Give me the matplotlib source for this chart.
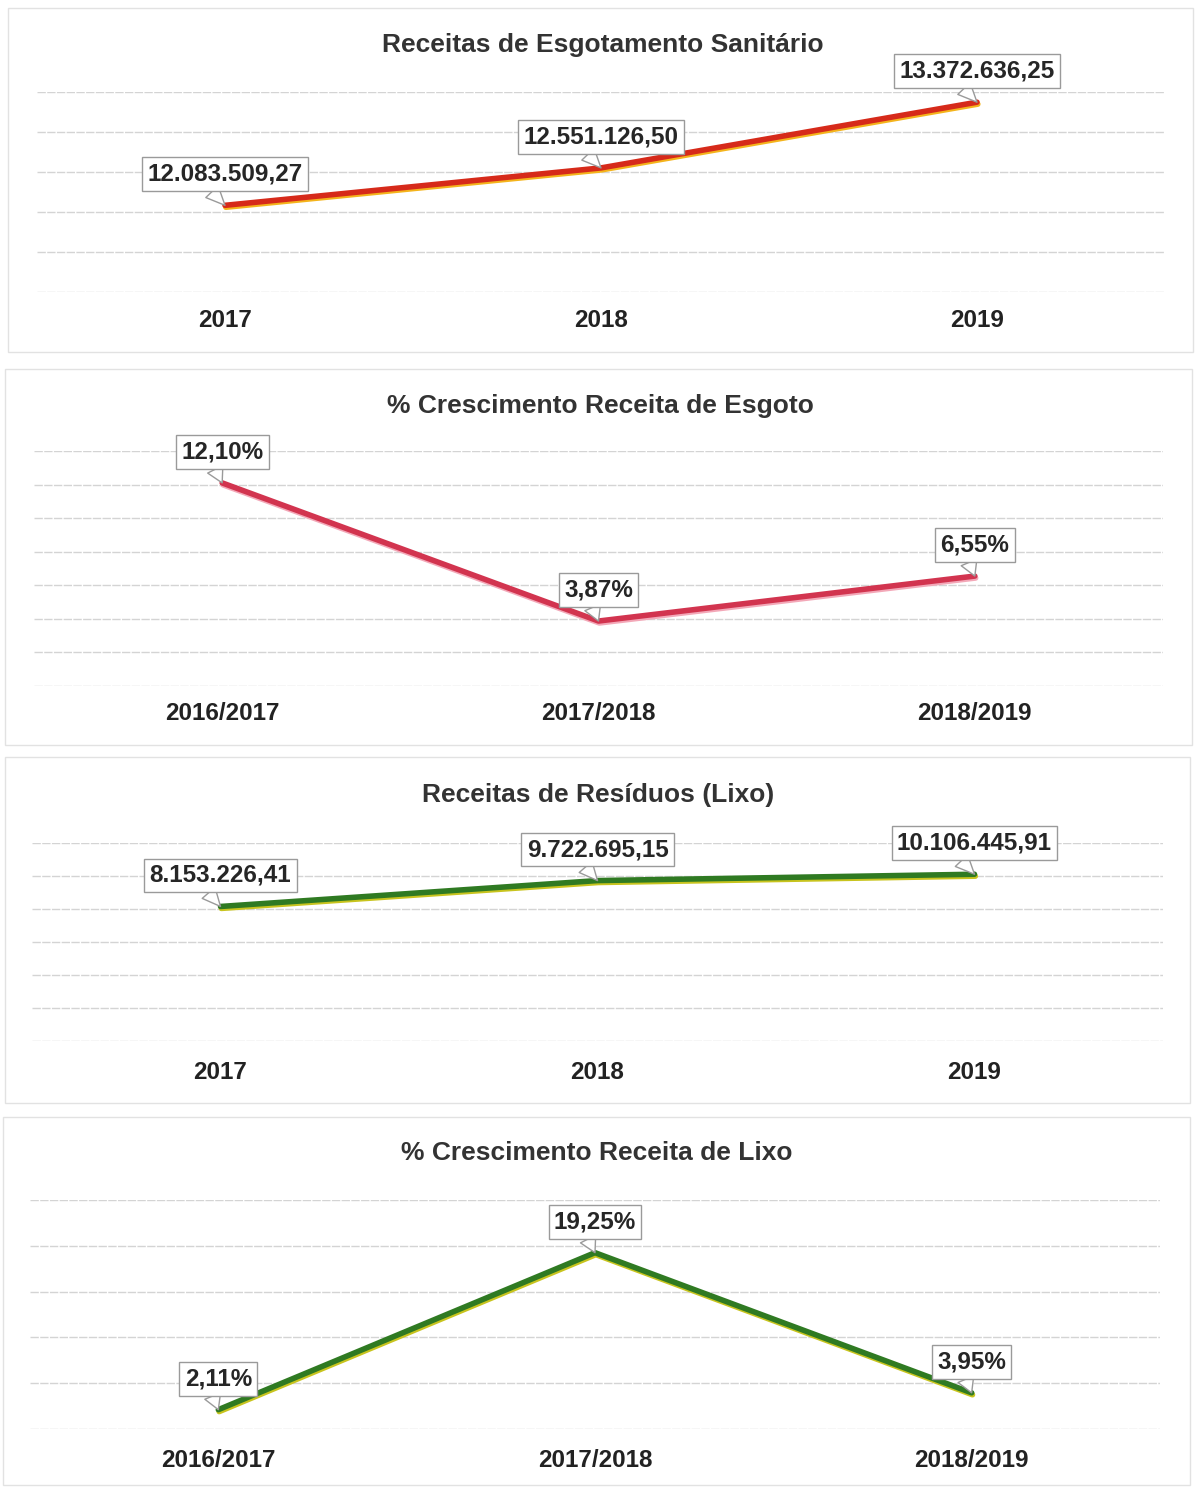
import matplotlib
matplotlib.use('Agg')

import matplotlib.pyplot as plt
import matplotlib.patheffects as pe
from matplotlib.patches import Rectangle

plt.rcParams['font.family'] = ['Liberation Sans', 'DejaVu Sans']

anos = ['2017', '2018', '2019']
periodos = ['2016/2017', '2017/2018', '2018/2019']

receita_esgoto = [12083509.27, 12551126.50, 13372636.25]
cresc_esgoto = [12.10, 3.87, 6.55]
receita_lixo = [8153226.41, 9722695.15, 10106445.91]
cresc_lixo = [2.11, 19.25, 3.95]

W, H = 1197, 1487
fig = plt.figure(figsize=(W / 100, H / 100), dpi=100)
fig.patch.set_facecolor('white')


def px_axes(x0, y_top, x1, y_bot):
    # pixel box (top-left origin) -> figure axes
    return fig.add_axes([x0 / W, 1 - y_bot / H, (x1 - x0) / W, (y_bot - y_top) / H])


def panel_frame(x0, y0, x1, y1):
    fig.patches.append(Rectangle((x0 / W, 1 - y1 / H), (x1 - x0) / W, (y1 - y0) / H,
                                 transform=fig.transFigure, fill=False,
                                 ec='#e2e2e2', lw=1))


def moeda(v):
    s = f"{v:,.2f}"
    return s.replace(',', '#').replace('.', ',').replace('#', '.')


def pct(v):
    return f"{v:.2f}%".replace('.', ',')


def draw_panel(box, title, title_xy, labels, values, ylim, step, color, shadow,
               fmt, pad):
    ax = px_axes(*box)
    xs = range(len(values))
    ax.plot(xs, values, color=color, lw=4, solid_capstyle='round', zorder=3,
            path_effects=[pe.SimpleLineShadow(offset=(0.6, -1.4), shadow_color=shadow, alpha=1),
                          pe.Normal()])
    ax.set_xlim(-0.5, len(values) - 0.5)
    ax.set_ylim(*ylim)
    ticks = []
    t = ylim[0]
    while t <= ylim[1] + step * 0.01:
        ticks.append(t)
        t += step
    ax.set_yticks(ticks)
    ax.yaxis.grid(True, color='#d4d4d4', lw=1, linestyle=(0, (6, 1)))
    ax.set_axisbelow(True)
    ax.tick_params(axis='y', left=False, labelleft=False)
    ax.set_xticks(list(xs))
    ax.set_xticklabels(labels, fontsize=17.5, fontweight='bold', color='#222222')
    ax.tick_params(axis='x', bottom=False, pad=pad)
    for s in ax.spines.values():
        s.set_visible(False)
    for i, v in enumerate(values):
        ax.annotate(fmt(v), xy=(i, v), xytext=(0, 31), textcoords='offset pixels',
                    ha='center', va='center', fontsize=17.5, fontweight='bold',
                    color='#262626', annotation_clip=False, zorder=5,
                    bbox=dict(boxstyle='square,pad=0.22', fc='white', ec='#9a9a9a', lw=1),
                    arrowprops=dict(arrowstyle='wedge,tail_width=0.7', fc='white',
                                    ec='#9a9a9a', lw=1, relpos=(0.38, 0),
                                    shrinkA=0, shrinkB=0))
    fig.text(title_xy[0] / W, 1 - title_xy[1] / H, title, ha='center', va='center',
             fontsize=19, fontweight='bold', color='#333333')
    return ax


panel_frame(8, 8, 1193, 352)
panel_frame(5, 369, 1192, 745)
panel_frame(5, 757, 1190, 1103)
panel_frame(3, 1117, 1190, 1485)

draw_panel((37, 92, 1165, 292), 'Receitas de Esgotamento Sanitário', (603, 45),
           anos, receita_esgoto, (11.0e6, 13.5e6), 0.5e6, '#d62a1a', '#f4b41c',
           moeda, 9)
draw_panel((34, 451, 1163, 686), '% Crescimento Receita de Esgoto', (600, 406),
           periodos, cresc_esgoto, (0, 14), 2, '#d2344f', '#f3a8b8', pct, 8)
draw_panel((32, 843, 1163, 1041), 'Receitas de Resíduos (Lixo)', (598, 795),
           anos, receita_lixo, (0, 12e6), 2e6, '#2f7a22', '#c8c41e', moeda, 11)
draw_panel((30, 1200, 1160, 1429), '% Crescimento Receita de Lixo', (597, 1153),
           periodos, cresc_lixo, (0, 25), 5, '#2f7a22', '#c8c41e', pct, 11)

fig.savefig('out.png', dpi=100, facecolor='white')
plt.close(fig)
